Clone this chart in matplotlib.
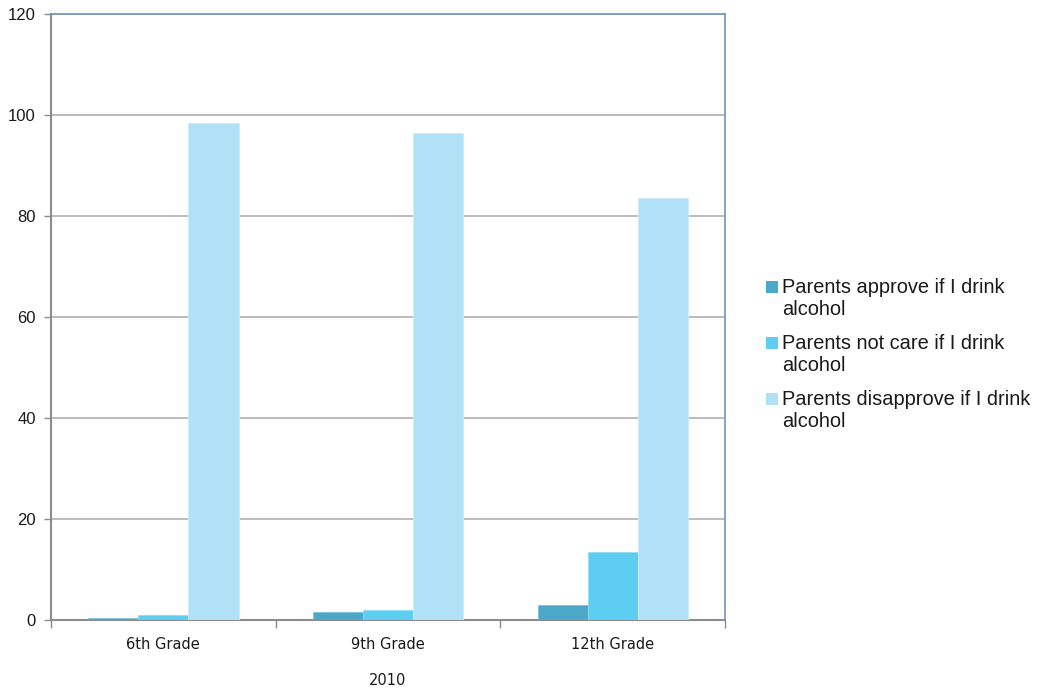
import numpy as np
import matplotlib.pyplot as plt
from matplotlib.patches import Rectangle

grades = ["6th Grade", "9th Grade", "12th Grade"]
approve = [0.4, 1.5, 3.0]
not_care = [1.0, 2.0, 13.5]
disapprove = [98.4, 96.5, 83.5]
series_labels = [
    "Parents approve if I drink\nalcohol",
    "Parents not care if I drink\nalcohol",
    "Parents disapprove if I drink\nalcohol",
]
colors = ["#4ba8c8", "#5ecdf2", "#b0e1f6"]
edge_colors = ["#7fc0d8", "#8fdcf6", "#cdebf8"]
yticks = [0, 20, 40, 60, 80, 100, 120]

W, H = 1037, 692
fig = plt.figure(figsize=(W / 100, H / 100), dpi=100)
ax = fig.add_axes([0.0492, 0.104, 0.65, 0.8758])

x = np.arange(len(grades))
width = 0.223
for i, vals in enumerate([approve, not_care, disapprove]):
    ax.bar(x + (i - 1) * width, vals, width, color=colors[i],
           edgecolor=edge_colors[i], linewidth=0.6, zorder=3)

ax.set_xlim(-0.5, len(grades) - 0.5)
ax.set_ylim(0, 120)
ax.set_yticks(yticks)
ax.set_yticklabels([str(v) for v in yticks], family="Liberation Sans",
                   fontsize=12, color="#1a1a1a")
ax.yaxis.grid(True, color="#b0b0b0", linewidth=1.2, zorder=0)
ax.tick_params(axis="y", length=5, width=1, color="#8c8c8c",
               pad=6, direction="out")

# category boundaries get the tick marks, labels sit at the centres
ax.set_xticks(np.arange(-0.5, len(grades), 1.0))
ax.set_xticklabels([])
ax.set_xticks(x, minor=True)
ax.set_xticklabels(grades, minor=True, fontsize=10.5, color="#1a1a1a")
ax.tick_params(axis="x", which="major", length=6, width=1, color="#8c8c8c")
ax.tick_params(axis="x", which="minor", length=0, pad=12)
ax.set_xlabel("2010", fontsize=10.5, labelpad=15, color="#1a1a1a",
              fontweight="medium")

for side in ["left", "bottom"]:
    ax.spines[side].set_color("#8c8c8c")
    ax.spines[side].set_linewidth(1.5)
for side in ["top", "right"]:
    ax.spines[side].set_color("#6f94c4")
    ax.spines[side].set_linewidth(1.2)

# legend: square swatch next to the first line of each wrapped label
top = 278
step = 56
for i, label in enumerate(series_labels):
    y0 = top + i * step
    fig.patches.append(Rectangle((766 / W, 1 - (y0 + 15) / H), 12 / W, 12 / H,
                                 transform=fig.transFigure, facecolor=colors[i],
                                 edgecolor="none"))
    fig.text(782 / W, 1 - y0 / H, label, family="Liberation Sans",
             fontsize=14.4, va="top", ha="left", linespacing=1.22,
             color="#1a1a1a")

fig.savefig("out.png", dpi=100)
